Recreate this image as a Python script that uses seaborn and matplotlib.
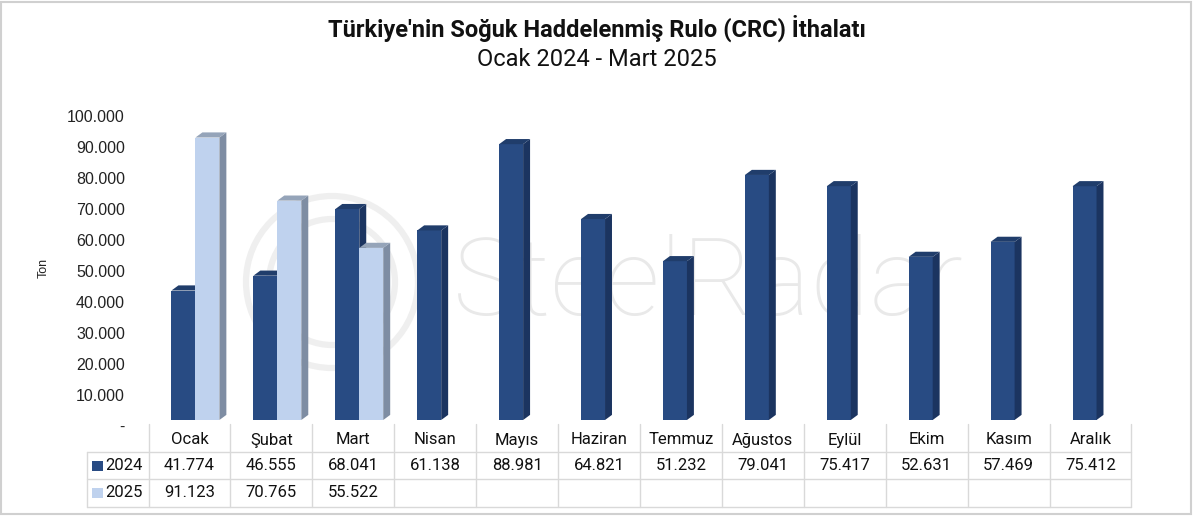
import numpy as np
import pandas as pd
import matplotlib
matplotlib.use('Agg')
from matplotlib import pyplot as plt
from matplotlib import transforms
from matplotlib.patches import Polygon, Rectangle, Circle
from matplotlib.lines import Line2D
import seaborn as sns

# data
months = ['Ocak', 'Şubat', 'Mart', 'Nisan', 'Mayıs', 'Haziran', 'Temmuz',
          'Ağustos', 'Eylül', 'Ekim', 'Kasım', 'Aralık']
years = ['2024', '2025']
ton_2024 = [41774, 46555, 68041, 61138, 88981, 64821, 51232, 79041, 75417, 52631, 57469, 75412]
ton_2025 = [91123, 70765, 55522] + [np.nan] * 9
yticks = list(range(0, 100001, 10000))

df = pd.DataFrame({
    'Ay': months * 2,
    'Yıl': ['2024'] * 12 + ['2025'] * 12,
    'Ton': ton_2024 + ton_2025,
})

def tr_fmt(v):
    # turkish thousands separator
    return f"{v:,.0f}".replace(',', '.')

sns.set_style('white')
plt.rcParams['font.family'] = ['Liberation Sans', 'DejaVu Sans']

W, H = 1193, 516
fig = plt.figure(figsize=(W / 100, H / 100), dpi=100)

def fy(y):  # pixel row -> figure fraction
    return 1 - y / H

# faint watermark, kept behind the bars
fig.text(708 / W, fy(286), 'SteelRadar', fontsize=78, color='#e9e9e9', family='Roboto',
         fontweight='light', ha='center', va='center', zorder=-2)
for r in [0.86, 0.63]:
    fig.add_artist(Circle((3.32, (H - 282) / 100), r, transform=fig.dpi_scale_trans,
                          fill=False, edgecolor='#efefef', lw=4.5, zorder=-2))

ax = fig.add_axes([148.5 / W, (H - 420) / H, 983 / W, 310 / H])
ax.patch.set_alpha(0)

c24, c25 = '#284b83', '#bfd2ee'
side = {'2024': '#1b3460', '2025': '#7e8da3'}
top = {'2024': '#203d6b', '2025': '#95a4b9'}

sns.barplot(data=df, x='Ay', y='Ton', hue='Yıl', palette={'2024': c24, '2025': c25},
            width=0.585, gap=0, saturation=1, errorbar=None, legend=False, ax=ax)
ax.set_xlim(-0.5, 11.5)
ax.set_ylim(0, 100000)

# fake 3d depth on each bar
dx, dy = 0.085, 1650
for p in list(ax.patches):
    h = p.get_height()
    if not np.isfinite(h) or h == 0:
        continue
    yr = '2025' if matplotlib.colors.to_hex(p.get_facecolor()) == c25 else '2024'
    z = 3 if yr == '2025' else 2
    p.set_x(p.get_x() + 0.073)
    p.set_zorder(z)
    p.set_edgecolor('none')
    x0, w = p.get_x(), p.get_width()
    ax.add_patch(Polygon([(x0 + w, 0), (x0 + w + dx, dy), (x0 + w + dx, h + dy), (x0 + w, h)],
                         closed=True, facecolor=side[yr], edgecolor='none', zorder=z))
    ax.add_patch(Polygon([(x0, h), (x0 + dx, h + dy), (x0 + w + dx, h + dy), (x0 + w, h)],
                         closed=True, facecolor=top[yr], edgecolor='none', zorder=z))

for s in ax.spines.values():
    s.set_visible(False)
ax.set_yticks(yticks)
ax.set_yticklabels(['-'] + [tr_fmt(v) for v in yticks[1:]])
ax.tick_params(axis='y', length=0, pad=17, labelsize=11.5, labelcolor='#222222')
ax.tick_params(axis='x', length=0, labelbottom=False)
ax.set_xlabel('')
ax.set_ylabel('Ton', fontsize=9, color='#222222')
ax.yaxis.set_label_coords(-0.1, 0.49)
shift = transforms.ScaledTranslation(0, -0.06, fig.dpi_scale_trans)
for lbl in ax.get_yticklabels():
    lbl.set_transform(lbl.get_transform() + shift)

# data table under the plot
bt = transforms.blended_transform_factory(ax.transData, fig.transFigure)
grid = '#d9d9d9'
left = -1.255
for i in range(13):
    fig.add_artist(Line2D([i - 0.5, i - 0.5], [fy(424), fy(507)], transform=bt, color=grid, lw=1))
for yl in [452, 479, 507]:
    fig.add_artist(Line2D([left, 11.5], [fy(yl), fy(yl)], transform=bt, color=grid, lw=1))
fig.add_artist(Line2D([left, left], [fy(452), fy(507)], transform=bt, color=grid, lw=1))

tf = dict(family=['Roboto', 'DejaVu Sans'], fontsize=12, color='#111111', ha='center', va='center')
for i, m in enumerate(months):
    fig.text(i, fy(440), m, transform=bt, **tf)
    fig.text(i, fy(465.5), tr_fmt(ton_2024[i]), transform=bt, **tf)
    if np.isfinite(ton_2025[i]):
        fig.text(i, fy(492.5), tr_fmt(ton_2025[i]), transform=bt, **tf)

for yr, col, yc in [('2024', c24, 465.5), ('2025', c25, 492.5)]:
    fig.add_artist(Rectangle((-1.188, fy(yc + 5)), 0.128, 10 / H, transform=bt,
                             facecolor=col, edgecolor='none'))
    fig.text(-1.03, fy(yc), yr, transform=bt, **{**tf, 'ha': 'left'})

# titles
fig.text(0.5, fy(28), "Türkiye'nin Soğuk Haddelenmiş Rulo (CRC) İthalatı", family=['Roboto', 'DejaVu Sans'],
         fontsize=17, fontweight='bold', ha='center', va='center', color='#111111')
fig.text(0.5, fy(60), 'Ocak 2024 - Mart 2025', family=['Roboto', 'DejaVu Sans'],
         fontsize=17, ha='center', va='center', color='#111111')

# outer frame
fig.add_artist(Rectangle((0.001, 0.003), 0.997, 0.994, transform=fig.transFigure,
                         fill=False, edgecolor='#d0d0d0', lw=1.5))

plt.savefig('out.png', dpi=100)
